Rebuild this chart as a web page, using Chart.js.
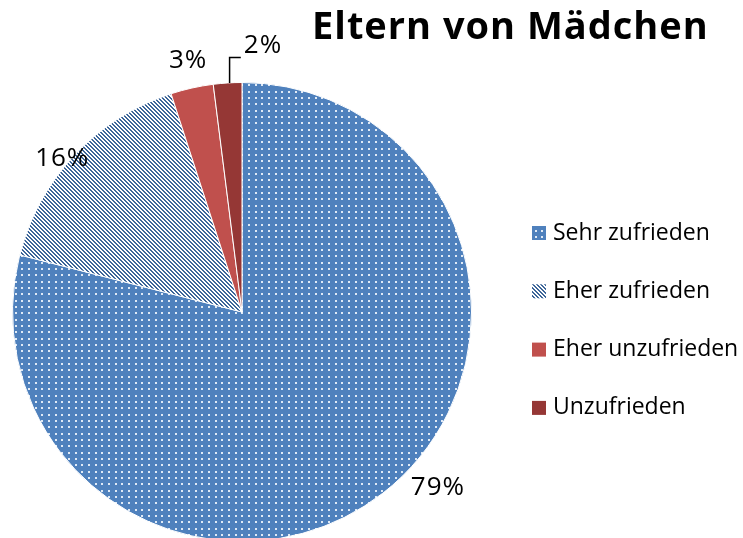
<!DOCTYPE html>
<html>
<head>
<meta charset="utf-8">
<script src="https://cdn.jsdelivr.net/npm/chart.js@4.4.1/dist/chart.umd.min.js"></script>
<style>
  html, body { margin: 0; padding: 0; background: #fff; overflow: hidden; }
  #wrap { width: 743px; height: 538px; overflow: hidden; }
</style>
</head>
<body>
<div id="wrap"><canvas id="c" width="743" height="546"></canvas></div>
<script>
const categories = ['Sehr zufrieden', 'Eher zufrieden', 'Eher unzufrieden', 'Unzufrieden'];
const shares = [79, 16, 3, 2];
const shareLabels = ['79%', '16%', '3%', '2%'];
const chartTitle = 'Eltern von Mädchen';

const FONT = '"Open Sans", "Noto Sans", sans-serif';
const canvas = document.getElementById('c');
const ctx = canvas.getContext('2d');

// fill patterns like the office ones
function dotPattern() {
  const t = document.createElement('canvas');
  t.width = 20; t.height = 19;
  const g = t.getContext('2d');
  g.fillStyle = '#4F81BD';
  g.fillRect(0, 0, 20, 19);
  g.fillStyle = 'rgba(240,245,252,0.9)';
  [1, 8, 15].forEach(x => [2, 8, 15].forEach(y => g.fillRect(x, y, 2, 2)));
  return ctx.createPattern(t, 'repeat');
}
function stripePattern() {
  const n = 4;
  const t = document.createElement('canvas');
  t.width = n; t.height = n;
  const g = t.getContext('2d');
  for (let x = 0; x < n; x++) {
    for (let y = 0; y < n; y++) {
      g.fillStyle = (((x - y) % n) + n) % n < 2 ? '#3D6699' : '#FFFFFF';
      g.fillRect(x, y, 1, 1);
    }
  }
  return ctx.createPattern(t, 'repeat');
}

const fills = [dotPattern(), stripePattern(), '#C0504D', '#953735'];

// where each percentage sits: angle shift (deg) and radius factor
const labelShift = [-10.4, -2.7, 0.5, 8.1];
const labelRadius = [1.145, 1.03, 1.12, 1.165];

const overlay = {
  id: 'overlay',
  afterDatasetsDraw(chart) {
    const c = chart.ctx;
    const arcs = chart.getDatasetMeta(0).data;
    c.save();
    c.fillStyle = '#000';
    c.font = '26px ' + FONT;
    c.letterSpacing = '1px';
    c.textAlign = 'center';
    c.textBaseline = 'middle';
    arcs.forEach((arc, i) => {
      const p = arc.getProps(['x', 'y', 'startAngle', 'endAngle', 'outerRadius'], true);
      const mid = (p.startAngle + p.endAngle) / 2;
      const a = mid + labelShift[i] * Math.PI / 180;
      const r = p.outerRadius * labelRadius[i];
      const lx = p.x + Math.cos(a) * r;
      const ly = p.y + Math.sin(a) * r;
      c.fillText(shareLabels[i], lx, ly);
      if (i === 3) {
        // leader line for the small slice
        const ex = p.x + Math.cos(mid) * p.outerRadius;
        const ey = p.y + Math.sin(mid) * p.outerRadius;
        const w = c.measureText(shareLabels[i]).width;
        c.strokeStyle = '#000';
        c.lineWidth = 1.5;
        c.beginPath();
        c.moveTo(ex + 2, ey);
        c.lineTo(ex + 2, ly + 12);
        c.lineTo(lx - w / 2 - 3, ly + 12);
        c.stroke();
      }
    });
    c.restore();
  },
  afterDraw(chart) {
    const c = chart.ctx;
    c.save();
    c.fillStyle = '#000';
    c.textBaseline = 'alphabetic';
    c.textAlign = 'left';
    c.font = 'bold 38px ' + FONT;
    c.letterSpacing = '1px';
    c.fillText(chartTitle, 312, 39);

    c.font = '23px ' + FONT;
    c.letterSpacing = '0px';
    c.textBaseline = 'middle';
    categories.forEach((name, i) => {
      const cy = 233 + i * 58.3;
      c.fillStyle = fills[i];
      c.fillRect(532, cy - 7, 14, 14);
      c.fillStyle = '#000';
      c.fillText(name, 553, cy);
    });
    c.restore();
  }
};

new Chart(canvas, {
  type: 'pie',
  data: {
    labels: categories,
    datasets: [{
      data: shares,
      backgroundColor: fills,
      borderColor: '#FFFFFF',
      borderWidth: 1
    }]
  },
  options: {
    responsive: false,
    animation: false,
    layout: { padding: { left: 12, right: 271, top: 82, bottom: 4 } },
    plugins: {
      legend: { display: false },
      title: { display: false },
      tooltip: { enabled: false }
    }
  },
  plugins: [overlay]
});
</script>
</body>
</html>
